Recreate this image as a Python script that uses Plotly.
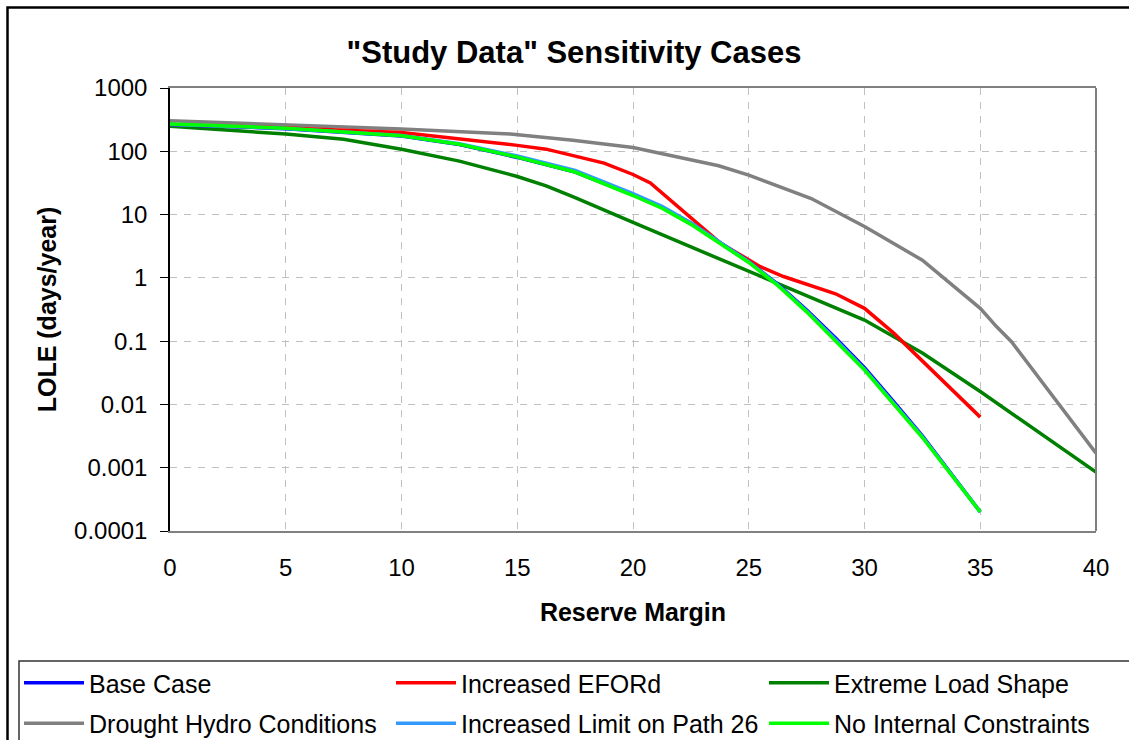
import plotly.graph_objects as go

# ---------------- data ----------------
x_base = [0, 5, 10, 12.5, 15, 17.5, 20, 21.25, 22.5, 23.75, 25, 26.25, 27.5, 28.75, 30, 31.25, 32.5, 35]
base_case = [265, 228, 174, 128, 80, 47, 20.5, 13, 7.3, 3.6, 1.8, 0.8, 0.31, 0.112, 0.038, 0.0112, 0.0032, 0.0002]
path26 = [266, 230, 178, 132, 84, 50, 21.5, 13.5, 7.4, 3.6, 1.8, 0.78, 0.30, 0.106, 0.036, 0.0106, 0.0031, 0.0002]
no_internal = [270, 232, 176, 129, 81, 47, 20, 12.6, 7.0, 3.5, 1.75, 0.76, 0.29, 0.100, 0.035, 0.0102, 0.0030, 0.0002]

x_eford = [0, 5, 10, 12.5, 15, 16.25, 17.5, 18.75, 20, 20.75, 23.75, 25.5, 26.5, 28.75, 30, 31.25, 35]
eford = [265, 234, 198, 158, 124, 108, 83, 65, 43, 31.6, 3.6, 1.5, 1.05, 0.56, 0.33, 0.135, 0.0063]

x_extreme = [0, 2.5, 5, 7.5, 10, 12.5, 15, 16.25, 17.5, 20, 22.5, 25, 27.5, 30, 32.5, 35, 40]
extreme = [248, 215, 187, 155, 108, 70, 40, 28.5, 18.6, 7.5, 3.1, 1.27, 0.53, 0.215, 0.065, 0.016, 0.00085]

x_drought = [0, 5, 10, 14.7, 17.4, 20, 23.7, 25, 26.6, 27.7, 30, 32.5, 35, 35.7, 36.35, 40]
drought = [305, 260, 225, 187, 150, 115, 59, 42, 25.7, 17.9, 6.5, 1.9, 0.33, 0.17, 0.098, 0.0017]

x_ticks = [0, 5, 10, 15, 20, 25, 30, 35, 40]
y_ticks = [0.0001, 0.001, 0.01, 0.1, 1, 10, 100, 1000]
y_ticktext = ["0.0001", "0.001", "0.01", "0.1", "1", "10", "100", "1000"]

# ---------------- figure ----------------
FONT = "Liberation Sans, Arial, sans-serif"
W, H = 1129, 740
# plot area in pixels: left 170, top 88, right 1096, bottom 531
L, T = 170, 88
R, B = W - 1096, H - 531
PW, PH = W - L - R, H - T - B


def px_x(p):  # pixel -> paper x
    return (p - L) / PW


def px_y(p):  # pixel -> paper y
    return (H - B - p) / PH


fig = go.Figure()

series = [
    ("Base Case", x_base, base_case, "#0000FF", "legend"),
    ("Drought Hydro Conditions", x_drought, drought, "#808080", "legend"),
    ("Increased EFORd", x_eford, eford, "#FF0000", "legend2"),
    ("Increased Limit on Path 26", x_base, path26, "#3399FF", "legend2"),
    ("Extreme Load Shape", x_extreme, extreme, "#008000", "legend3"),
    ("No Internal Constraints", x_base, no_internal, "#00FF00", "legend3"),
]
draw_order = [1, 4, 2, 0, 3, 5]
for i in draw_order:
    name, xs, ys, col, lg = series[i]
    fig.add_trace(go.Scatter(
        x=xs, y=ys, name=name, mode="lines",
        line=dict(color=col, width=3.5),
        legend=lg, legendgroup=name, legendrank=i,
    ))

legend_common = dict(
    orientation="v", bgcolor="rgba(0,0,0,0)", borderwidth=0,
    font=dict(family=FONT, size=25, color="black"),
    itemwidth=60, tracegroupgap=5, xanchor="left", yanchor="top",
)
legend_top = px_y(660)

fig.update_layout(
    width=W, height=H,
    margin=dict(l=L, r=R, t=T, b=B, autoexpand=False),
    paper_bgcolor="white", plot_bgcolor="white",
    font=dict(family=FONT, size=24, color="black"),
    title=dict(
        text='<b>"Study Data" Sensitivity Cases</b>',
        font=dict(family=FONT, size=31, color="black"),
        x=574 / W, xref="container", xanchor="center",
        y=1 - 52 / H, yref="container", yanchor="middle",
    ),
    legend=dict(legend_common, x=px_x(19), y=legend_top),
    legend2=dict(legend_common, x=px_x(391), y=legend_top),
    legend3=dict(legend_common, x=px_x(764), y=legend_top),
    xaxis=dict(
        range=[0, 40], tickvals=x_ticks, ticks="outside", ticklen=14,
        tickcolor="rgba(0,0,0,0)",
        showgrid=True, gridcolor="#C0C0C0", griddash="7px,7px", gridwidth=1,
        showline=True, linecolor="#808080", linewidth=2, mirror=True,
        zeroline=False, tickfont=dict(family=FONT, size=24),
        title=dict(text="<b>Reserve Margin</b>", font=dict(family=FONT, size=25), standoff=24),
    ),
    xaxis2=dict(
        range=[0, 40], tickvals=x_ticks, overlaying="x", anchor="free",
        position=3 / 7, side="bottom", ticks="outside", ticklen=8, tickcolor="black",
        showticklabels=False, showgrid=False, zeroline=False,
        showline=True, linecolor="black", linewidth=1.5,
    ),
    yaxis=dict(
        type="log", range=[-4, 3], tickvals=y_ticks, ticktext=y_ticktext,
        ticks="outside", ticklen=8, tickcolor="black", ticklabelstandoff=8,
        showgrid=True, gridcolor="#C0C0C0", griddash="7px,7px", gridwidth=1,
        showline=True, linecolor="black", linewidth=1.5,
        zeroline=False, tickfont=dict(family=FONT, size=24),
        title=dict(text="<b>LOLE (days/year)</b>", font=dict(family=FONT, size=25), standoff=10),
    ),
    shapes=[
        dict(type="line", xref="paper", yref="paper", x0=1, x1=1, y0=0, y1=1,
             line=dict(color="#808080", width=2), layer="above"),
        dict(type="rect", xref="paper", yref="paper",
             x0=px_x(19), x1=px_x(1160), y0=px_y(780), y1=px_y(661),
             line=dict(color="#333333", width=1.5), fillcolor="rgba(0,0,0,0)"),
        dict(type="rect", xref="paper", yref="paper",
             x0=px_x(7.5), x1=px_x(1160), y0=px_y(780), y1=px_y(7.5),
             line=dict(color="black", width=2.5), fillcolor="rgba(0,0,0,0)"),
    ],
)

fig.write_html(
    "out.html",
    config={"displayModeBar": False},
    post_script="document.body.style.margin='0';document.body.style.overflow='hidden';",
)
